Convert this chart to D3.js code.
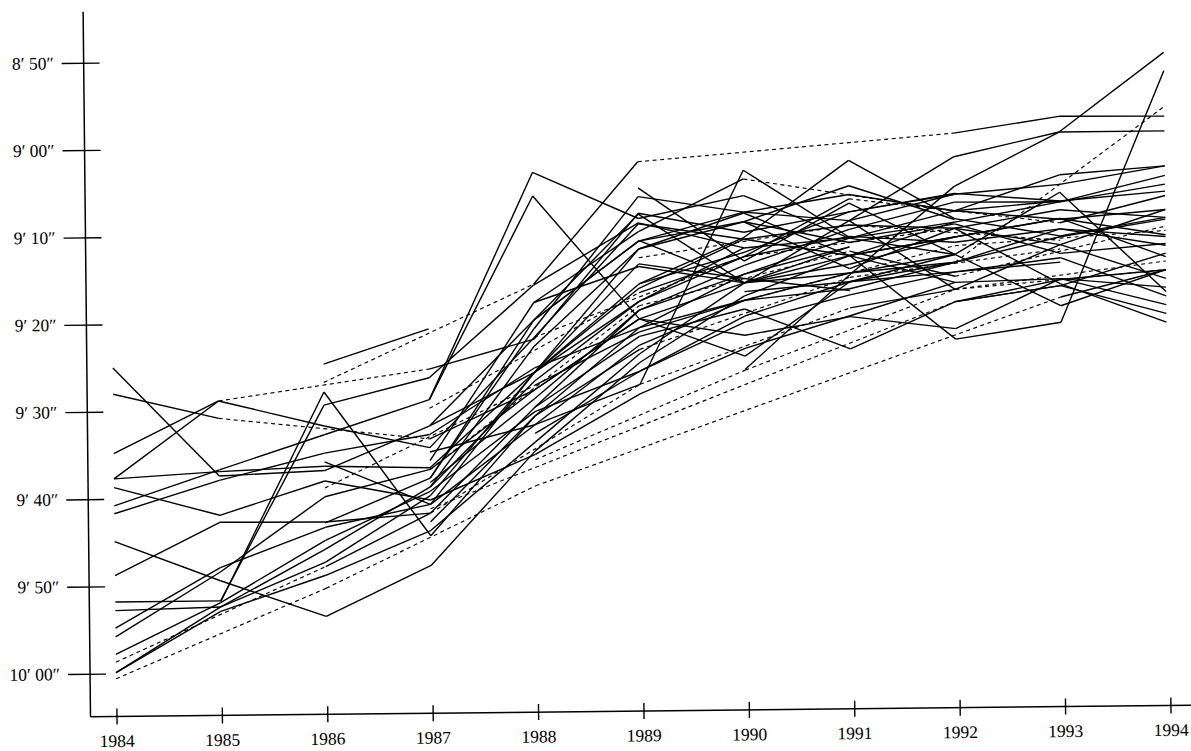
<!DOCTYPE html>
<html>
<head>
<meta charset="utf-8">
<script src="https://cdn.jsdelivr.net/npm/d3@7/dist/d3.min.js"></script>
<style>
  body { margin: 0; background: #fff; }
  text { font-family: "Liberation Serif", "DejaVu Serif", serif; }
</style>
</head>
<body>
<div id="chart"></div>
<script>
// years on the x axis
const years = d3.range(1984, 1995);

// y ticks in seconds, with their labels
const yTicks = [530, 540, 550, 560, 570, 580, 590, 600];
const yTickLabels = ["8\u2032 50\u2033", "9\u2032 00\u2033", "9\u2032 10\u2033", "9\u2032 20\u2033",
                     "9\u2032 30\u2033", "9\u2032 40\u2033", "9\u2032 50\u2033", "10\u2032 00\u2033"];

// one row per runner, best time (seconds) per year 1984..1994, null = no time that year
const N = null;
const runners = [
  [565.0, 577.5, 577.0, 572.0, 566.0, 558.0, 552.0, 551.0, 549.3, N, N],
  [568.0, 570.9, N, 573.5, 568.0, 560.0, 556.0, 555.0, 553.9, 551.1, 549.2],
  [574.8, 568.9, N, 565.5, 562.2, 547.9, 550.2, 548.0, 546.1, 545.1, 543.1],
  [577.7, 568.9, 571.9, 574.5, 562.0, 549.1, 551.0, 553.0, 556.2, 555.9, 557.0],
  [577.7, 577.0, 576.5, 576.8, 566.0, 553.7, 555.5, 557.0, N, N, N],
  [578.7, 582.0, 578.2, 580.5, 575.4, 568.6, 563.5, 559.9, 556.2, N, N],
  [580.8, 576.8, 572.9, 569.0, 543.1, 548.5, 546.0, 551.0, 548.0, 549.1, 548.1],
  [581.7, 578.0, 575.0, 573.0, 565.5, 561.0, 558.0, 556.8, 553.9, 550.2, 551.2],
  [584.9, 589.5, 593.7, 588.0, 575.0, 565.0, 557.5, 553.0, 549.3, 547.1, 544.2],
  [588.8, 582.8, 582.9, 582.0, 570.0, 562.0, 559.0, 563.7, 558.4, 556.7, 553.1],
  [591.8, 591.8, 569.5, 566.5, 556.0, 549.0, 552.0, N, N, N, N],
  [592.8, 592.5, 586.0, 579.0, 567.0, 558.0, 553.0, 550.8, 551.6, 550.2, 552.2],
  [594.8, 588.0, 583.5, 581.0, 572.0, 563.0, 558.0, 555.0, 553.0, 559.0, 555.0],
  [595.8, 588.5, 580.0, 577.0, 568.0, 560.0, 562.0, 560.0, 561.5, 555.9, 559.0],
  [597.8, 592.0, 585.0, 579.5, 570.5, 566.0, 559.8, 556.0, 555.0, 554.0, N],
  [598.7, N, 588.0, 582.0, N, 567.5, N, 559.0, 557.0, N, 554.0],
  [599.9, 592.5, 587.5, 580.0, 566.0, 556.0, 552.5, 548.0, 546.0, 547.0, 546.0],
  [599.9, 593.0, 589.0, 584.0, 574.0, 564.0, 556.0, 553.0, 551.0, N, N],
  [600.6, N, 590.5, N, 579.0, N, N, N, N, 558.0, 555.0],
  [N, N, 564.8, 560.9, N, N, N, N, N, N, N],
  [N, N, 566.9, N, 555.9, 542.0, N, N, 539.1, 537.3, 537.4],
  [N, N, N, 569.0, 545.8, 560.0, 564.4, 556.0, 553.0, N, N],
  [N, N, N, N, N, N, 565.9, 555.2, 545.2, 539.1, 530.1],
  [N, N, N, N, N, N, N, 553.0, 562.7, 560.9, 532.2],
  [N, N, N, N, N, N, 557.0, 556.0, 553.9, N, 536.3],
  [N, N, N, 575.0, 572.0, 567.5, 543.1, 550.9, N, N, N],
  [N, N, N, N, N, 556.0, 550.8, 542.1, 548.9, 551.0, 549.0],
  [N, N, N, N, 558.0, 550.0, 544.1, N, 548.0, 547.0, N],
  [N, 591.9, 568.0, 584.6, 571.0, 561.0, 555.0, 552.0, N, N, N],
  [N, N, 576.0, 581.0, 566.0, 556.5, 551.0, 549.5, 550.0, 552.0, 548.1],
  [N, N, N, 572.0, 560.0, 551.1, 547.9, 546.0, 548.0, 544.0, 543.1],
  [N, N, N, 578.0, 561.0, 546.0, 547.9, 549.0, 546.1, N, N],
  [N, N, N, N, N, N, N, 549.0, 541.8, 539.1, 539.1],
  [N, N, N, N, 570.0, 559.0, 554.0, 550.0, 547.0, 547.1, 545.2],
  [N, N, N, N, N, N, N, N, 558.4, 556.7, 560.0],
  [N, N, N, 581.5, N, N, N, N, 558.4, 556.0, 555.0],
  [N, N, N, N, 576.0, N, 566.0, N, 557.0, N, 555.0],
  [N, N, N, N, N, 553.0, N, 549.5, N, 551.5, N],
  [N, N, N, 570.0, N, 557.0, 553.0, N, 550.0, 548.0, 549.0],
  [N, N, 583.0, 578.0, 560.0, 551.1, 549.0, 545.0, 549.0, N, N],
  [N, N, N, 579.0, 563.0, 552.0, 548.0, 553.0, 551.0, 549.0, 551.0],
  [N, N, N, 576.0, 558.0, 554.0, 556.0, 552.0, N, N, N],
  [N, N, N, N, 566.0, 552.0, 549.0, 551.5, 549.5, 553.0, 552.0],
  [N, N, N, 578.5, 569.0, 559.0, 555.0, 551.0, 553.0, N, N],
  [N, N, N, N, N, 551.0, 556.0, 554.0, 551.0, 549.0, 553.5],
  [N, N, N, N, 560.0, 548.0, 556.0, 549.0, 557.0, 552.0, 556.0],
  [N, N, N, N, N, 545.0, 553.5, 547.0, 553.0, 546.0, 557.5],
  [N, N, N, 577.0, N, 558.5, N, 552.5, 555.5, N, 550.0],
  [N, N, N, N, 562.0, N, 553.0, 546.5, N, 549.5, 546.5],
  [N, N, N, N, N, N, 549.0, 554.5, 550.0, 556.5, 561.0],
  [N, N, N, 583.0, 571.0, 563.5, N, 555.5, N, 552.5, N],
  [N, N, N, N, 573.0, 566.0, 560.5, 557.5, 555.0, 553.5, 558.0],
  [N, N, 579.0, N, 567.5, 561.5, 558.0, N, 552.0, N, 550.5]
];

const w = 1191, h = 751;

let svg = d3.select("#chart")
            .append("svg")
            .attr("width", w)
            .attr("height", h);

// the scan is a little tilted, so the whole figure is turned slightly
let g = svg.append("g")
           .attr("transform", "rotate(-0.6, 640, 380)");

let x = d3.scaleLinear().domain([1984, 1994]).range([113, 1167]);
let y = d3.scaleLinear().domain([530, 600]).range([57, 668]);

const axisX = 87, axisY = 711;

// split each runner into segments: consecutive years solid, gaps dashed
let segments = [];
runners.forEach(r => {
  let pts = [];
  r.forEach((v, i) => { if (v != null) pts.push([years[i], v]); });
  for (let k = 0; k < pts.length - 1; k++) {
    segments.push({
      a: pts[k], b: pts[k + 1],
      dashed: pts[k + 1][0] - pts[k][0] > 1
    });
  }
});

let line = d3.line().x(d => x(d[0])).y(d => y(d[1]));

g.selectAll(".seg")
  .data(segments)
  .enter()
  .append("path")
  .attr("class", "seg")
  .attr("d", d => line([d.a, d.b]))
  .attr("fill", "none")
  .attr("stroke", "#000")
  .attr("stroke-width", d => d.dashed ? 1.15 : 1.4)
  .attr("stroke-dasharray", d => d.dashed ? "4,3.5" : null);

// y axis
let yAxis = g.append("g")
  .attr("transform", "translate(" + axisX + ",0)")
  .call(d3.axisLeft(y)
          .tickValues(yTicks)
          .tickFormat((d, i) => yTickLabels[i])
          .tickSize(22)
          .tickSizeOuter(0));
yAxis.select(".domain").remove();
yAxis.selectAll(".tick line").attr("x1", 16).attr("stroke", "#000").attr("stroke-width", 1.4);
yAxis.selectAll(".tick text")
  .attr("x", -30)
  .attr("fill", "#000")
  .style("font-size", "17.5px")
  .style("font-family", "'Liberation Serif', serif");

g.append("line")
  .attr("x1", axisX).attr("x2", axisX)
  .attr("y1", 6).attr("y2", axisY)
  .attr("stroke", "#000").attr("stroke-width", 1.5);

// x axis
let xAxis = g.append("g")
  .attr("transform", "translate(0," + axisY + ")")
  .call(d3.axisBottom(x)
          .tickValues(years)
          .tickFormat(d3.format("d"))
          .tickSize(8)
          .tickSizeOuter(0));
xAxis.select(".domain").remove();
xAxis.selectAll(".tick line").attr("y1", -8).attr("stroke", "#000").attr("stroke-width", 1.4);
xAxis.selectAll(".tick text")
  .attr("y", 18)
  .attr("fill", "#000")
  .style("font-size", "17.5px")
  .style("font-family", "'Liberation Serif', serif");

g.append("line")
  .attr("x1", axisX).attr("x2", 1200)
  .attr("y1", axisY).attr("y2", axisY)
  .attr("stroke", "#000").attr("stroke-width", 1.5);
</script>
</body>
</html>
